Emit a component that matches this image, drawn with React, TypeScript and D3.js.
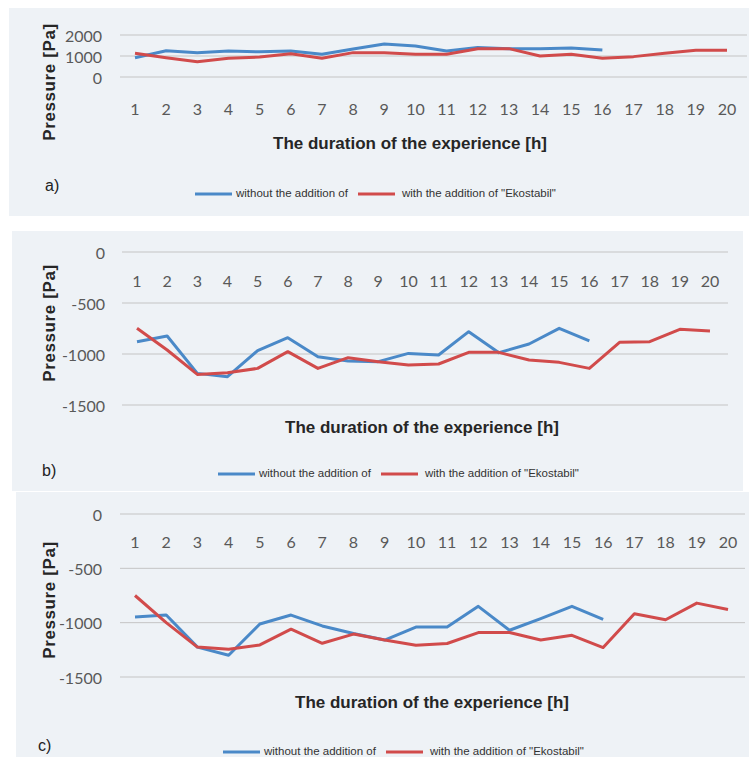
import React from "react";
import * as d3 from "d3";

// ---- data ----
const hours = d3.range(1, 21);
const hoursBlue = d3.range(1, 17);

const aWithout = [920, 1250, 1160, 1240, 1200, 1240, 1080, 1330, 1570, 1480, 1240, 1400, 1350, 1340, 1380, 1290];
const aWith = [1130, 920, 730, 890, 950, 1110, 890, 1160, 1160, 1080, 1080, 1350, 1350, 1000, 1080, 890, 970, 1130, 1270, 1270];

const bWithout = [-879, -823, -1190, -1222, -967, -840, -1026, -1069, -1075, -994, -1010, -781, -987, -902, -748, -872];
const bWith = [-748, -961, -1200, -1183, -1141, -977, -1141, -1036, -1075, -1108, -1098, -984, -984, -1059, -1082, -1141, -886, -879, -758, -774];

const cWithout = [-948, -930, -1225, -1300, -1012, -930, -1030, -1100, -1160, -1040, -1040, -850, -1070, -963, -850, -970];
const cWith = [-750, -1000, -1225, -1245, -1205, -1060, -1190, -1105, -1160, -1207, -1192, -1091, -1091, -1160, -1116, -1229, -918, -973, -820, -878];

const aTicks = [0, 1000, 2000];
const bcTicks = [0, -500, -1000, -1500];

const xTitle = "The duration of the experience [h]";
const yTitle = "Pressure [Pa]";
const seriesNames = ["without the addition of", 'with the addition of "Ekostabil"'];

// ---- layout ----
const BLUE = "#4a89c8";
const RED = "#d14b4b";
const BG = "#eef2f6";

type Panel = {
  tag: string;
  box: [number, number, number, number];
  x1: number; x20: number;
  yDomain: [number, number]; yRange: [number, number];
  grid: [number, number];
  ticks: number[];
  tickRight: number;
  xTickY: number;
  titleX: number; titleY: number;
  yTitleX: number; yTitleY: number;
  tagX: number; tagY: number;
  legY: number; legX: number; legRedX: number;
  blue: number[]; red: number[];
};

const panels: Panel[] = [
  {
    tag: "a)", box: [9, 8, 740, 208], x1: 135, x20: 727,
    yDomain: [0, 2000], yRange: [77, 35], grid: [120, 747], ticks: aTicks,
    tickRight: 102, xTickY: 108, titleX: 410, titleY: 143, yTitleX: 49, yTitleY: 82,
    tagX: 45, tagY: 185, legY: 194, legX: 195, legRedX: 358,
    blue: aWithout, red: aWith,
  },
  {
    tag: "b)", box: [12, 231, 731, 260], x1: 137, x20: 710,
    yDomain: [-1500, 0], yRange: [405, 252], grid: [122, 728], ticks: bcTicks,
    tickRight: 105, xTickY: 280, titleX: 422, titleY: 427, yTitleX: 49, yTitleY: 323,
    tagX: 42, tagY: 470, legY: 474, legX: 218, legRedX: 381,
    blue: bWithout, red: bWith,
  },
  {
    tag: "c)", box: [16, 492, 733, 265], x1: 135, x20: 728,
    yDomain: [-1500, 0], yRange: [677, 514], grid: [120, 745], ticks: bcTicks,
    tickRight: 102, xTickY: 541, titleX: 432, titleY: 702, yTitleX: 49, yTitleY: 600,
    tagX: 38, tagY: 745, legY: 752, legX: 223, legRedX: 386,
    blue: cWithout, red: cWith,
  },
];

const tickFont = "Lato, 'Open Sans', sans-serif";
const sansFont = "'Liberation Sans', Arial, sans-serif";

function PanelView({ p }: { p: Panel }) {
  const x = d3.scaleLinear().domain([1, 20]).range([p.x1, p.x20]);
  const y = d3.scaleLinear().domain(p.yDomain).range(p.yRange);
  const line = d3.line<[number, number]>().x((d) => x(d[0])).y((d) => y(d[1]));
  const bluePts = hoursBlue.map((h, i) => [h, p.blue[i]] as [number, number]);
  const redPts = hours.map((h, i) => [h, p.red[i]] as [number, number]);
  const [bx, by, bw, bh] = p.box;
  return (
    <g>
      <rect x={bx} y={by} width={bw} height={bh} fill={BG} />
      {p.ticks.map((t) => (
        <g key={t}>
          <line x1={p.grid[0]} x2={p.grid[1]} y1={y(t)} y2={y(t)} stroke="#c4c4c4" strokeWidth={1} />
          <text x={p.tickRight} y={y(t)} textAnchor="end" dominantBaseline="central"
            fontFamily={tickFont} fontSize={16} fill="#595959">{String(t)}</text>
        </g>
      ))}
      {hours.map((h) => (
        <text key={h} x={x(h)} y={p.xTickY} textAnchor="middle" dominantBaseline="central"
          fontFamily={tickFont} fontSize={16} fill="#595959">{h}</text>
      ))}
      <path d={line(bluePts) || ""} fill="none" stroke={BLUE} strokeWidth={3} strokeLinejoin="round" />
      <path d={line(redPts) || ""} fill="none" stroke={RED} strokeWidth={3} strokeLinejoin="round" />
      <text x={p.titleX} y={p.titleY} textAnchor="middle" dominantBaseline="central"
        fontFamily={sansFont} fontWeight="bold" fontSize={17} fill="#262626">{xTitle}</text>
      <text transform={`translate(${p.yTitleX},${p.yTitleY}) rotate(-90)`} textAnchor="middle"
        dominantBaseline="central" fontFamily={sansFont} fontWeight="bold" fontSize={17}
        letterSpacing={0.6} fill="#262626">{yTitle}</text>
      <text x={p.tagX} y={p.tagY} dominantBaseline="central" fontFamily={sansFont} fontSize={16} fill="#222">{p.tag}</text>
      <line x1={p.legX} x2={p.legX + 37} y1={p.legY} y2={p.legY} stroke={BLUE} strokeWidth={3} />
      <text x={p.legX + 41} y={p.legY - 1} dominantBaseline="central" fontFamily={sansFont} fontSize={11.5} fill="#333">{seriesNames[0]}</text>
      <line x1={p.legRedX} x2={p.legRedX + 37} y1={p.legY} y2={p.legY} stroke={RED} strokeWidth={3} />
      <text x={p.legRedX + 44} y={p.legY - 1} dominantBaseline="central" fontFamily={sansFont} fontSize={11.5} fill="#333">{seriesNames[1]}</text>
    </g>
  );
}

export default function App() {
  return (
    <svg width={749} height={757} style={{ position: "absolute", left: 0, top: 0, background: "#fff" }}>
      {panels.map((p) => <PanelView key={p.tag} p={p} />)}
    </svg>
  );
}
